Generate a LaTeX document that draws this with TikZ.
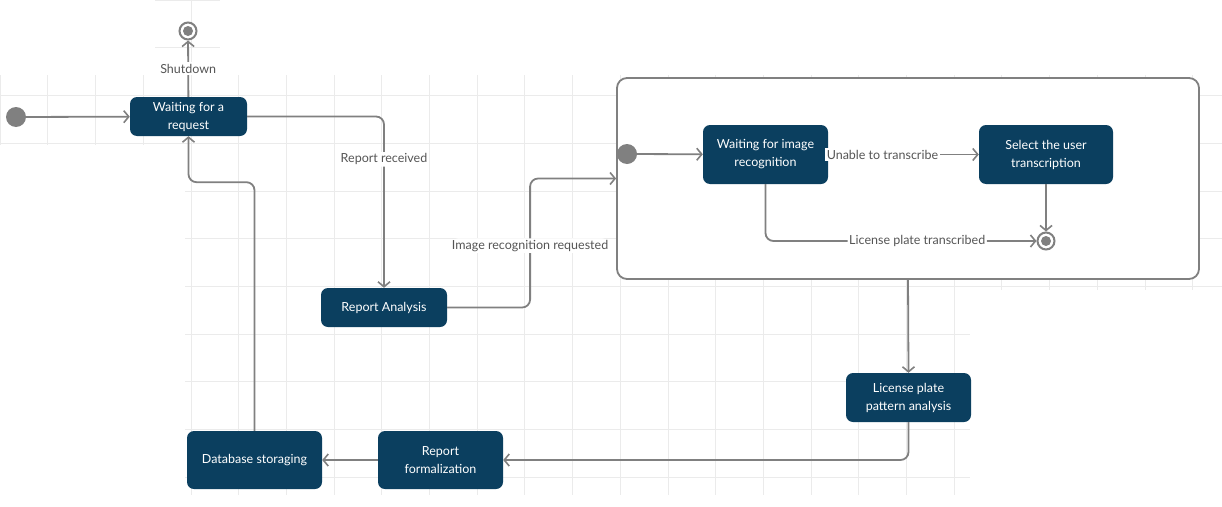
\documentclass[tikz,border=0pt]{standalone}
\usepackage{fontspec}
\setmainfont{Lato}
\usetikzlibrary{arrows.meta}
\definecolor{boxblue}{HTML}{0B3F5F}
\definecolor{linegray}{HTML}{808080}
\definecolor{labelgray}{HTML}{555555}
\tikzset{
	stbox/.style={rectangle,rounded corners=7pt,fill=boxblue,text=white,align=center,inner sep=0pt,font=\fontsize{12.5}{18}\selectfont},
	startdot/.style={circle,fill=linegray,minimum size=20pt,inner sep=0pt},
	enddot/.style={circle,draw=linegray,line width=2pt,fill=white,minimum size=17pt,inner sep=0pt,
		path picture={\fill[linegray] (path picture bounding box.center) circle (5pt);}},
	arr/.style={draw=linegray,line width=1.8pt,-{Straight Barb[length=5pt,width=12pt,line width=1.6pt]}},
	lbl/.style={fill=white,text=labelgray,inner sep=1.5pt,font=\fontsize{12.5}{15}\selectfont},
	gridline/.style={draw=black!8,line width=0.6pt}
}
\begin{document}
\begin{tikzpicture}[x=1pt,y=-1pt]
	\useasboundingbox (0,0) rectangle (1222,506);
	%grid
	\foreach \xa/\ya/\xb/\yb in {185/75/970/495, 0/75/185/145, 970/75/1222/290, 155/0/220/75}
		\draw[gridline,step=47.7pt] (\xa,\ya) grid (\xb,\yb);

	%outer states
	\node[startdot] (init) at (16,117) {};
	\node[enddot] (off) at (188,31) {};
	\node[stbox,minimum width=117pt,minimum height=39pt] (wait) at (188.5,116.5) {Waiting for a\\request};
	\node[stbox,minimum width=126pt,minimum height=39pt] (analysis) at (384,307.5) {Report Analysis};
	\node[stbox,minimum width=125pt,minimum height=49pt] (pattern) at (908.5,397.5) {License plate\\pattern analysis};
	\node[stbox,minimum width=125pt,minimum height=58pt] (formal) at (440.5,460) {Report\\formalization};
	\node[stbox,minimum width=135pt,minimum height=58pt] (dbstore) at (254.5,460) {Database storaging};

	%composite state
	\node[rectangle,rounded corners=10pt,draw=linegray,line width=1.8pt,fill=white,minimum width=582pt,minimum height=201pt] (recog) at (908,178.5) {};
	\node[startdot] (init2) at (627,154) {};
	\node[stbox,minimum width=125pt,minimum height=59pt] (waitimg) at (765.5,154.5) {Waiting for image\\recognition};
	\node[stbox,minimum width=134pt,minimum height=59pt] (select) at (1046,154.5) {Select the user\\transcription};
	\node[enddot] (fin) at (1046,241) {};

	%transitions
	\draw[arr] (init) -- (wait);
	\draw[arr] (wait) -- node[lbl]{Shutdown} (off);
	\draw[arr,rounded corners=8pt] (wait.east) -| node[lbl,pos=0.625]{Report received} (analysis.north);
	\draw[arr,rounded corners=8pt] (analysis.east) -| node[lbl,pos=0.74]{Image recognition requested} ([xshift=-86pt]recog.west) -- (recog.west);
	\draw[arr] (init2) -- (waitimg);
	\draw[arr] (waitimg) -- node[lbl,pos=0.36]{Unable to transcribe} (select);
	\draw[arr] (select) -- (fin);
	\draw[arr,rounded corners=8pt] (waitimg.south) |- node[lbl,pos=0.78]{License plate transcribed} (fin);
	\draw[arr] (recog.south) -- (pattern.north);
	\draw[arr,rounded corners=8pt] (pattern.south) |- (formal.east);
	\draw[arr] (formal) -- (dbstore);
	\draw[arr,rounded corners=8pt] (dbstore.north) |- ([yshift=-46pt]wait.south) -- (wait.south); %back to waiting
\end{tikzpicture}
\end{document}
